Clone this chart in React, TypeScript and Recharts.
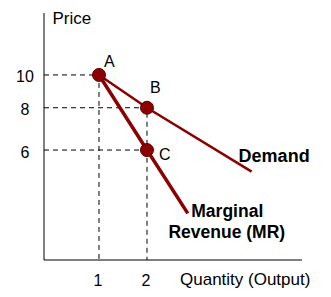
import React from "react";
import {
  ComposedChart, Line, Scatter, XAxis, YAxis,
} from "recharts";

// price / quantity values
const QTY_TICKS = [1, 2];
const PRICE_TICKS = [10, 8, 6];

const DEMAND_Q = [1, 2, 4.18];
const DEMAND_P = [10, 8, 5.18];

const MR_Q = [1, 2, 2.85];
const MR_P = [10, 6, 3.9];

const POINT_NAMES = ["A", "B", "C"];
const POINT_Q = [1, 2, 2];
const POINT_P = [10, 8, 6];

// axis extents (the axes start a bit left of / below the origin in the original)
const Q_DOMAIN = [-0.146, 5.23];
const P_DOMAIN = [2.84, 15.24];

const FONT = '"Liberation Sans", Arial, Helvetica, sans-serif';
const RED = "#8b0000";

const zip = (qs: number[], ps: number[]) => qs.map((q, i) => ({ q, p: ps[i] }));

const demandData = zip(DEMAND_Q, DEMAND_P);
const mrData = zip(MR_Q, MR_P);
const pointData = POINT_NAMES.map((name, i) => ({ name, q: POINT_Q[i], p: POINT_P[i] }));

// dashed guides from each point to the axes
const guideA = [
  { q: Q_DOMAIN[0], p: POINT_P[0] },
  { q: POINT_Q[0], p: POINT_P[0] },
  { q: POINT_Q[0], p: P_DOMAIN[0] },
];
const guideB = [
  { q: Q_DOMAIN[0], p: POINT_P[1] },
  { q: POINT_Q[1], p: POINT_P[1] },
  { q: POINT_Q[1], p: P_DOMAIN[0] },
];
const guideC = [
  { q: Q_DOMAIN[0], p: POINT_P[2] },
  { q: POINT_Q[2], p: POINT_P[2] },
];

// label offsets for point names
const NAME_OFFSET: Record<string, [number, number]> = {
  A: [5, -8],
  B: [3, -15],
  C: [12, 10],
};

function PointDot(props: any) {
  const { cx, cy, payload } = props;
  const [dx, dy] = NAME_OFFSET[payload.name] || [0, 0];
  return (
    <g>
      <circle cx={cx} cy={cy} r={6.5} fill={RED} stroke="#5a0000" strokeWidth={1} />
      <text x={cx + dx} y={cy + dy} fontFamily={FONT} fontSize={16} fill="#000">
        {payload.name}
      </text>
    </g>
  );
}

function DemandLabel(props: any) {
  const { x, y, index } = props;
  if (index !== DEMAND_Q.length - 1) return null;
  return (
    <text x={x - 13} y={y - 10} fontFamily={FONT} fontSize={18} fontWeight="bold" fill="#000">
      Demand
    </text>
  );
}

function MrLabel(props: any) {
  const { x, y, index } = props;
  if (index !== MR_Q.length - 1) return null;
  return (
    <g>
      <text x={x + 39.5} y={y + 4} fontFamily={FONT} fontSize={17.5} fontWeight="bold" fill="#000" textAnchor="middle">
        Marginal
      </text>
      <text x={x + 39} y={y + 25} fontFamily={FONT} fontSize={17.5} fontWeight="bold" fill="#000" textAnchor="middle">
        Revenue (MR)
      </text>
    </g>
  );
}

export default function App() {
  return (
    <div style={{ position: "absolute", left: 0, top: 0, background: "#fff" }}>
      <ComposedChart width={331} height={297} margin={{ top: 13, right: 29, bottom: 0, left: 0 }}>
        <XAxis
          dataKey="q"
          type="number"
          domain={Q_DOMAIN}
          allowDataOverflow
          ticks={QTY_TICKS}
          height={37}
          tickLine={false}
          tickSize={0}
          axisLine={{ stroke: "#000", strokeWidth: 1 }}
          tick={(p: any) => (
            <text x={p.x - 1} y={p.y + 24} textAnchor="middle" fontFamily={FONT} fontSize={16} fill="#000">
              {p.payload.value}
            </text>
          )}
          label={(p: any) => (
            <text x={p.viewBox.x + 136} y={p.viewBox.y + 24.5} fontFamily={FONT} fontSize={17} fill="#000">
              Quantity (Output)
            </text>
          )}
        />
        <YAxis
          dataKey="p"
          type="number"
          scale="log"
          domain={P_DOMAIN}
          allowDataOverflow
          ticks={PRICE_TICKS}
          width={44}
          tickLine={false}
          tickSize={0}
          axisLine={{ stroke: "#000", strokeWidth: 1 }}
          tick={(p: any) => (
            <text x={25} y={p.y + 7.5} textAnchor="middle" fontFamily={FONT} fontSize={16} fill="#000">
              {p.payload.value}
            </text>
          )}
          label={(p: any) => (
            <text x={p.viewBox.x + p.viewBox.width + 8.5} y={p.viewBox.y + 11} fontFamily={FONT} fontSize={17} fill="#000">
              Price
            </text>
          )}
        />
        <Line data={guideA} dataKey="p" stroke="#000" strokeWidth={1} strokeDasharray="5 4" dot={false} isAnimationActive={false} />
        <Line data={guideB} dataKey="p" stroke="#000" strokeWidth={1} strokeDasharray="5 4" dot={false} isAnimationActive={false} />
        <Line data={guideC} dataKey="p" stroke="#000" strokeWidth={1} strokeDasharray="5 4" dot={false} isAnimationActive={false} />
        <Line data={demandData} dataKey="p" stroke={RED} strokeWidth={2.5} dot={false} label={DemandLabel} isAnimationActive={false} />
        <Line data={mrData} dataKey="p" stroke={RED} strokeWidth={3.5} dot={false} label={MrLabel} isAnimationActive={false} />
        <Scatter data={pointData} dataKey="p" shape={PointDot} isAnimationActive={false} />
      </ComposedChart>
    </div>
  );
}
